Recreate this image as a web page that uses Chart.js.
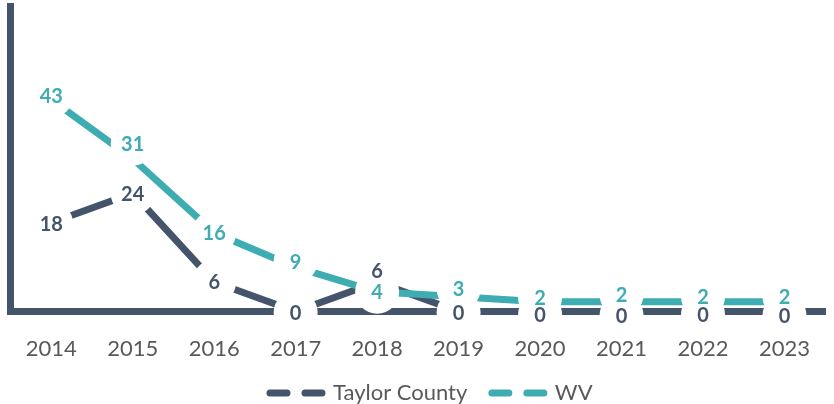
<!DOCTYPE html>
<html>
<head>
<meta charset="utf-8">
<script src="https://cdn.jsdelivr.net/npm/chart.js@4/dist/chart.umd.min.js"></script>
<style>
  html, body { margin: 0; padding: 0; background: #fff; }
  #box { width: 834px; height: 404px; position: relative; }
</style>
</head>
<body>
<div id="box"><canvas id="graph"></canvas></div>
<script>
const years = ["2014", "2015", "2016", "2017", "2018", "2019", "2020", "2021", "2022", "2023"];
const taylor = [18, 24, 6, 0, 6, 0, 0, 0, 0, 0];
const wv = [43, 31, 16, 9, 4, 3, 2, 2, 2, 2];

const DARK = "#44546A";
const TEAL = "#3DADB2";

// label nudges, like the hand-moved labels in the original
const taylorNudge = [1, 0, 0, 1, -11, 1, 3, 4, 3, 4];
const wvNudge = [-4, -15, 0, -6, 0, -8, -4, -7, -5, -5];

const pointLabels = {
    id: "pointLabels",
    afterLayout(chart) {
        // legend sits a little right of centre in the original
        chart.legend.left += 9;
        chart.legend.right += 9;
    },
    afterDatasetsDraw(chart) {
        const ctx = chart.ctx;
        const items = [];
        chart.data.datasets.forEach((ds, i) => {
            const meta = chart.getDatasetMeta(i);
            meta.data.forEach((pt, j) => {
                items.push({x: pt.x, y: pt.y + ds.nudge[j], text: String(ds.data[j]), color: ds.borderColor});
            });
        });
        ctx.save();
        ctx.fillStyle = "#fff";
        items.forEach(it => {
            ctx.beginPath();
            ctx.arc(it.x, it.y, 22, 0, Math.PI * 2);
            ctx.fill();
        });
        ctx.font = "bold 20px Lato";
        ctx.textAlign = "center";
        ctx.textBaseline = "middle";
        items.forEach(it => {
            ctx.fillStyle = it.color;
            ctx.fillText(it.text, it.x, it.y + 1);
        });
        ctx.restore();
    }
};

const graph = document.getElementById("graph").getContext("2d");

const chart = new Chart(graph, {
    type: "line",
    data: {
        labels: years,
        datasets: [
            {
                label: "Taylor County",
                data: taylor,
                nudge: taylorNudge,
                borderColor: DARK,
                backgroundColor: DARK,
                borderWidth: 7,
                pointRadius: 0,
                borderJoinStyle: "round",
                tension: 0,
                clip: false,
                order: 1
            },
            {
                label: "WV",
                data: wv,
                nudge: wvNudge,
                borderColor: TEAL,
                backgroundColor: TEAL,
                borderWidth: 7,
                pointRadius: 0,
                borderJoinStyle: "round",
                tension: 0,
                clip: false,
                order: 0
            }
        ]
    },
    options: {
        responsive: true,
        maintainAspectRatio: false,
        animation: false,
        layout: {padding: {left: 10.5, top: 6, right: 0, bottom: 0}},
        scales: {
            x: {
                offset: true,
                grid: {display: false, drawTicks: false},
                border: {display: true, color: DARK, width: 7},
                ticks: {color: "#595959", font: {family: "Lato", size: 22}, padding: 24},
                afterFit: s => { s.height = 46; }
            },
            y: {
                min: 0,
                max: 62,
                grid: {display: false, drawTicks: false},
                border: {display: true, color: DARK, width: 7},
                ticks: {display: false},
                afterFit: s => { s.width = 0; }
            }
        },
        plugins: {
            tooltip: {enabled: false},
            legend: {
                position: "bottom",
                maxHeight: 46.5,
                labels: {
                    usePointStyle: true,
                    pointStyle: "line",
                    pointStyleWidth: 52,
                    boxWidth: 29,
                    padding: 24.5,
                    color: "#595959",
                    font: {family: "Lato", size: 22},
                    sort: (a, b) => a.datasetIndex - b.datasetIndex,
                    generateLabels: ch => ch.data.datasets.map((ds, i) => ({
                        text: ds.label,
                        datasetIndex: i,
                        strokeStyle: ds.borderColor,
                        fillStyle: ds.borderColor,
                        lineWidth: 7,
                        lineCap: "round",
                        lineDash: [17, 18],
                        pointStyle: "line",
                        fontColor: "#595959"
                    }))
                }
            }
        }
    },
    plugins: [pointLabels]
});
</script>
</body>
</html>
